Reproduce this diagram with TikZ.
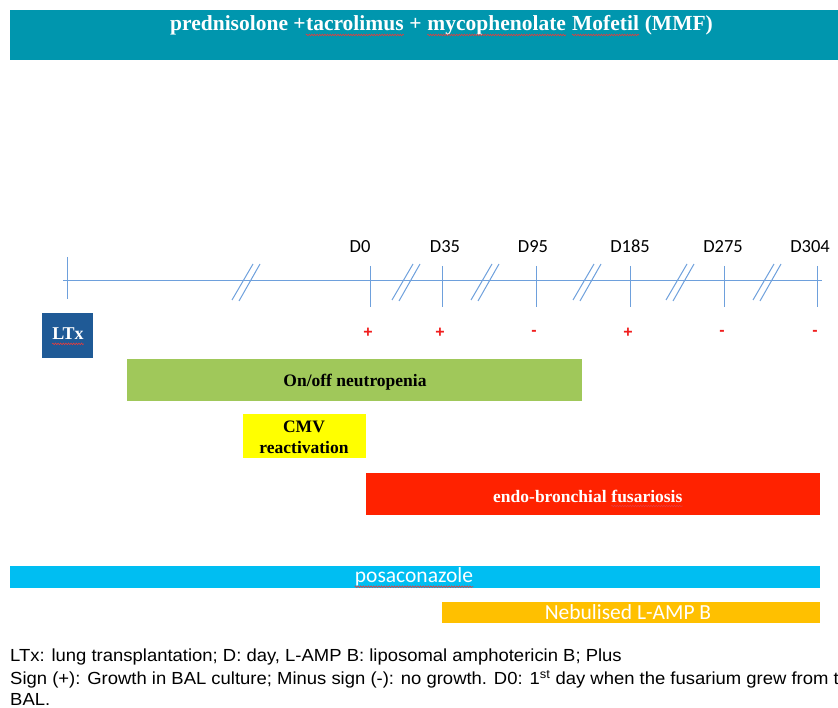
\documentclass[tikz,border=0pt]{standalone}
\usepackage{fontspec}
\setmainfont{Liberation Serif}
\newfontfamily\calib{Carlito}
\newfontfamily\arial{Liberation Sans}
\usetikzlibrary{decorations.pathmorphing}
\definecolor{topc}{RGB}{0,150,174}
\definecolor{ltxc}{RGB}{31,90,150}
\definecolor{greenc}{RGB}{160,200,90}
\definecolor{yellowc}{RGB}{255,255,0}
\definecolor{redc}{RGB}{255,34,0}
\definecolor{cyanc}{RGB}{0,190,242}
\definecolor{goldc}{RGB}{255,192,0}
\definecolor{linec}{RGB}{110,160,220}
\definecolor{signc}{RGB}{240,30,30}
\definecolor{wavec}{RGB}{230,60,60}
\newcommand\wsp{\hspace*{0.25em}}
\begin{document}
\begin{tikzpicture}[x=1pt,y=-1pt,
  tl/.style={draw=linec,line width=1pt},
  wave/.style={draw=wavec,line width=0.6pt,decorate,decoration={snake,amplitude=0.8pt,segment length=2.6pt}},
  toptxt/.style={font=\bfseries\fontsize{21.5}{24}\selectfont,text=white,inner sep=0pt,anchor=base west},
  daylab/.style={font=\calib\fontsize{18.5}{20}\selectfont,inner sep=0pt,anchor=base},
  sign/.style={font=\arial\bfseries\fontsize{16}{18}\selectfont,text=signc,inner sep=0pt},
  bartxt/.style={font=\bfseries\fontsize{17.5}{20}\selectfont,inner sep=0pt,align=center},
  sanstxt/.style={font=\calib\fontsize{21.5}{24}\selectfont,text=white,inner sep=0pt},
  captxt/.style={font=\arial\fontsize{17.5}{20}\selectfont,anchor=west,inner sep=0pt,xscale=1.055}]
\useasboundingbox (0,0) rectangle (838,708);
% top bar
\fill[topc] (10,10) rectangle (838,60);
\node[toptxt] (top1) at (170,31) {prednisolone +};
\node[toptxt] (top2) at (top1.base east) {tacrolimus};
\node[toptxt] (top3) at (top2.base east) {\wsp+\wsp};
\node[toptxt] (top4) at (top3.base east) {mycophenolate};
\node[toptxt] (top5) at (top4.base east) {\wsp};
\node[toptxt] (top6) at (top5.base east) {Mofetil};
\node[toptxt] (top7) at (top6.base east) {\wsp(MMF)};
\foreach \w in {top2,top4,top6}
  \draw[wave] ([yshift=-4pt]\w.base west) -- ([yshift=-4pt]\w.base east);
% timeline
\coordinate (start) at (63,281);
\coordinate (end) at (822,281);
\draw[tl] (start) -- (end);
\draw[tl] (67,257) -- (67,299);
\foreach \x/\lab/\lx/\s in {370/D0/360/+,442/D35/445/+,536/D95/533/-,630/D185/630/+,724/D275/723/-,817/D304/810/-}{
  \draw[tl] (\x,266) -- (\x,307);
  \node[daylab] (lab\lab) at (\lx,253) {\lab};
  \node[sign] (sign\lab) at (\x-2,333) {\s};
}
\foreach \c in {246,406,485,587,680,767}{
  \draw[tl] (\c-14,300) -- (\c+7,264);
  \draw[tl] (\c-7,301) -- (\c+14,264);
}
% LTx box
\fill[ltxc] (42,313) rectangle (93,358);
\node[font=\bfseries\fontsize{18}{20}\selectfont,text=white,inner sep=0pt] (ltx) at (68,334) {LTx};
\draw[wave] ([yshift=-4pt]ltx.base west) -- ([yshift=-4pt]ltx.base east);
% neutropenia
\fill[greenc] (127,359) rectangle (582,401);
\node[bartxt] (neut) at (355,382) {On/off neutropenia};
% CMV
\fill[yellowc] (243,414) rectangle (366,458);
\node[bartxt,font=\bfseries\fontsize{17.5}{21}\selectfont] (cmv) at (304,437) {CMV\\reactivation};
% fusariosis
\fill[redc] (366,473) rectangle (820,515);
\node[bartxt,text=white,anchor=base west] (fus1) at (493,502) {endo-bronchial\wsp};
\node[bartxt,text=white,anchor=base west] (fus2) at (fus1.base east) {fusariosis};
\draw[wave] ([yshift=-4pt]fus2.base west) -- ([yshift=-4pt]fus2.base east);
% posaconazole
\fill[cyanc] (10,566) rectangle (820,588);
\node[sanstxt] (posa) at (414,577) {posaconazole};
\draw[wave] ([yshift=-4pt]posa.base west) -- ([yshift=-4pt]posa.base east);
% nebulised
\fill[goldc] (442,602) rectangle (820,623);
\node[sanstxt] (neb) at (628,612) {Nebulised L-AMP B};
% caption
\node[captxt] (cap1) at (10,657) {LTx: lung transplantation; D: day, L-AMP B: liposomal amphotericin B; Plus};
\node[captxt] (cap2) at (10,679) {Sign (+): Growth in BAL culture; Minus sign (-): no growth. D0: 1\textsuperscript{st} day when the fusarium grew from the};
\node[captxt] (cap3) at (10,699) {BAL.};
\end{tikzpicture}
\end{document}
